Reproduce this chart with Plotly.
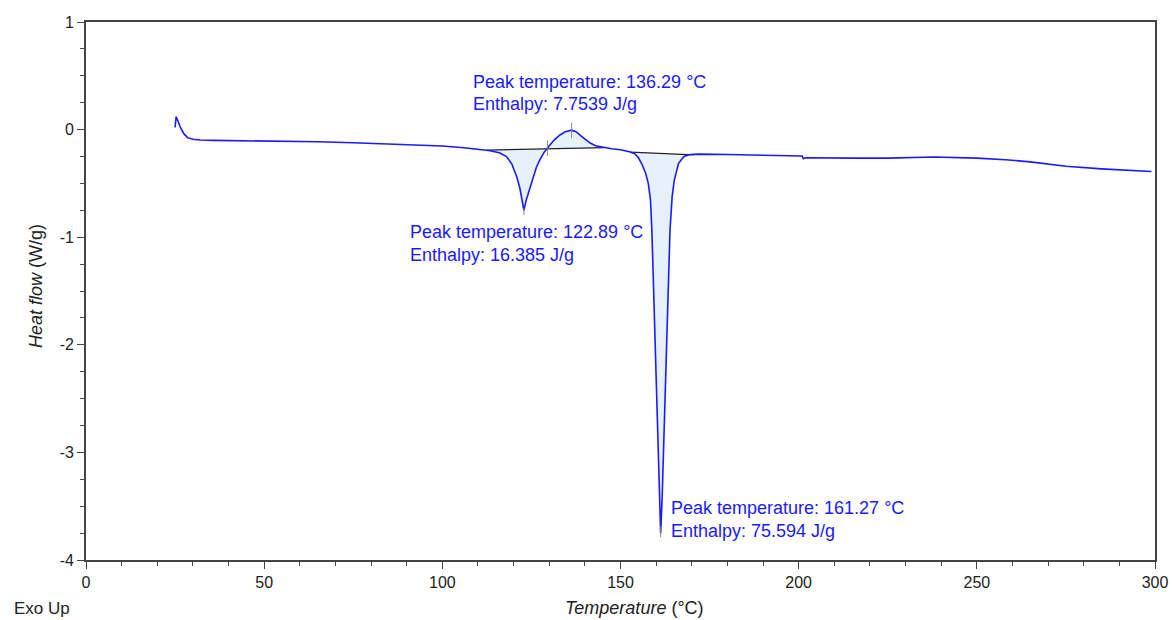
import numpy as np
import plotly.graph_objects as go

# DSC curve (temperature in °C, heat flow in W/g)
temperature = [25.0, 25.3, 25.8, 26.5, 27.5, 28.5, 30, 32, 36, 45, 55, 65, 75, 85, 92, 100, 106, 110,
               113, 116, 118, 119.5, 120.9, 121.8, 122.4, 122.89, 123.5, 124.1, 124.8, 125.5, 126.4,
               127.4, 128.6, 129.8, 131.3, 133, 134.5, 136.29, 137.5, 139, 140.5, 141.5, 143, 145,
               147.5, 150, 152.5, 154.0, 155.0, 156.0, 157.0, 157.8, 158.4, 158.8, 159.3, 159.9,
               160.4, 160.9, 161.27, 161.7, 162.3, 162.8, 163.3, 163.9, 164.5, 165.1, 166.3, 167.8,
               169.5, 172, 180, 190, 201, 201.3, 202, 215, 225, 238, 250, 258, 265, 275, 285, 299]
heat_flow = [0.02, 0.12, 0.08, 0.02, -0.04, -0.075, -0.09, -0.097, -0.10, -0.103, -0.107, -0.113,
             -0.122, -0.133, -0.143, -0.153, -0.168, -0.18,
             -0.195, -0.215, -0.25, -0.32, -0.44, -0.55, -0.65, -0.75, -0.66, -0.60, -0.52, -0.44,
             -0.35, -0.28, -0.21, -0.16, -0.10, -0.05, -0.02, -0.005, -0.02, -0.06, -0.10, -0.125,
             -0.15, -0.165, -0.178, -0.188, -0.205, -0.225, -0.26, -0.32, -0.40, -0.50, -0.65,
             -0.93, -1.55, -2.17, -2.79, -3.41, -3.75, -3.41, -2.79, -2.17, -1.55, -0.93, -0.62,
             -0.47, -0.313, -0.25, -0.232, -0.228, -0.232, -0.236, -0.245, -0.27, -0.262, -0.265,
             -0.265, -0.255, -0.265, -0.28, -0.30, -0.34, -0.365, -0.39]

# Integration baselines: (start T, end T) and (start HF, end HF)
baseline_T = [[112.5, 145.5], [152.7, 170.5]]
baseline_HF = [[-0.19, -0.168], [-0.21, -0.234]]

# Peaks
peak_T = [136.29, 122.89, 161.27]
peak_HF = [-0.005, -0.75, -3.75]
peak_labels = ["Peak temperature: 136.29 °C", "Peak temperature: 122.89 °C", "Peak temperature: 161.27 °C"]
enthalpy_labels = ["Enthalpy: 7.7539 J/g", "Enthalpy: 16.385 J/g", "Enthalpy: 75.594 J/g"]

# Peak marker segments (T, HF from, HF to)
marker_T = [136.29, 122.89, 161.27, 129.5]
marker_HF0 = [0.064, -0.73, -3.69, -0.10]
marker_HF1 = [-0.08, -0.79, -3.79, -0.245]

# Tick labels
x_tickvals = [0, 50, 100, 150, 200, 250, 300]
x_ticktext = ["0", "50", "100", "150", "200", "250", "300"]
y_tickvals = [1, 0, -1, -2, -3, -4]
y_ticktext = ["1", "0", "-1", "-2", "-3", "-4"]

BLUE = "#1a1aff"
FONT = "Arial, Liberation Sans, sans-serif"
W, H = 1172, 620
ML, MR, MT, MB = 86, 17, 22, 60
PW, PH = W - ML - MR, H - MT - MB

t = np.array(temperature)
h = np.array(heat_flow)

fig = go.Figure()

# fills between curve and baseline
for bt, bh in zip(baseline_T, baseline_HF):
    m = (t > bt[0]) & (t < bt[1])
    xs = [bt[0]] + list(t[m]) + [bt[1]]
    ys = [bh[0]] + list(h[m]) + [bh[1]]
    fig.add_trace(go.Scatter(x=xs, y=ys, mode="lines", fill="toself",
                             fillcolor="#e6f1fc", line=dict(width=0),
                             hoverinfo="skip", showlegend=False))

# baselines
for bt, bh in zip(baseline_T, baseline_HF):
    fig.add_trace(go.Scatter(x=bt, y=bh, mode="lines", line=dict(color="#222222", width=1.2),
                             hoverinfo="skip", showlegend=False))

# curve
fig.add_trace(go.Scatter(x=temperature, y=heat_flow, mode="lines",
                         line=dict(color=BLUE, width=1.6), showlegend=False))

# marker segments
for mt, a, b in zip(marker_T, marker_HF0, marker_HF1):
    fig.add_trace(go.Scatter(x=[mt, mt], y=[a, b], mode="lines",
                             line=dict(color="#888888", width=1), hoverinfo="skip",
                             showlegend=False))

# annotations anchored to peaks with pixel offsets
shifts = [(-100.6, 48, 26), (-116, -21.7, -44.7), (8.3, 25, 2)]
annotations = []
for pt, ph, pl, el, (xs_, y1, y2) in zip(peak_T, peak_HF, peak_labels, enthalpy_labels, shifts):
    for txt, ys_ in ((pl, y1), (el, y2)):
        annotations.append(dict(x=pt, y=ph, xref="x", yref="y", text=txt, showarrow=False,
                                xanchor="left", yanchor="middle", xshift=xs_, yshift=ys_,
                                font=dict(family=FONT, size=18, color=BLUE)))


def px_to_paper(px, py):
    return (px - ML) / PW, (H - MB - py) / PH


ex, ey = px_to_paper(12, 608)
annotations.append(dict(x=ex, y=ey, xref="paper", yref="paper",
                        text="Exo Up", showarrow=False, xanchor="left", yanchor="middle",
                        font=dict(family=FONT, size=17, color="#222222")))
tx, ty = px_to_paper(634, 608)
annotations.append(dict(x=tx, y=ty, xref="paper", yref="paper",
                        text="<i>Temperature</i> (°C)", showarrow=False, xanchor="center",
                        yanchor="middle", font=dict(family=FONT, size=18, color="#222222")))
yx, yy = px_to_paper(36, 286)
annotations.append(dict(x=yx, y=yy, xref="paper", yref="paper", textangle=-90,
                        text="<i>Heat flow</i> (W/g)", showarrow=False, xanchor="center",
                        yanchor="middle", font=dict(family=FONT, size=18, color="#222222")))

axis_common = dict(showline=True, linecolor="#444444", linewidth=1.6, mirror=True,
                   ticks="outside", tickcolor="#444444", tickwidth=1.2, ticklen=7,
                   showgrid=False, zeroline=False, automargin=False,
                   tickfont=dict(family=FONT, size=16, color="#222222"))

fig.update_layout(
    width=W, height=H,
    margin=dict(l=ML, r=MR, t=MT, b=MB),
    plot_bgcolor="white", paper_bgcolor="white",
    hovermode=False,
    annotations=annotations,
    xaxis=dict(range=[0, 300], tickvals=x_tickvals, ticktext=x_ticktext,
               minor=dict(dtick=10, ticks="outside", ticklen=4, tickcolor="#444444", tickwidth=1.2),
               **axis_common),
    yaxis=dict(range=[-4, 1], tickvals=y_tickvals, ticktext=y_ticktext,
               minor=dict(dtick=0.25, ticks="outside", ticklen=4, tickcolor="#444444", tickwidth=1.2),
               **axis_common),
)

fig.write_html("out.html")
